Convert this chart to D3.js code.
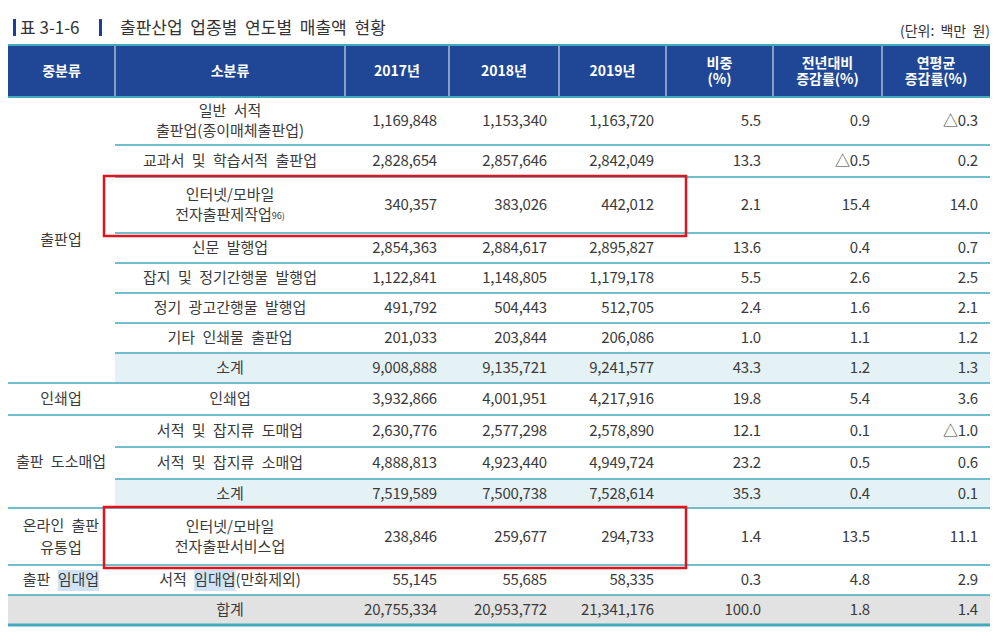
<!DOCTYPE html>
<html><head><meta charset="utf-8">
<script src="https://cdn.jsdelivr.net/npm/d3@7"></script>
<style>body{margin:0;background:#fff}text{font-family:"Noto Sans CJK KR","Noto Sans",sans-serif}</style>
</head><body><svg id="c" width="998" height="638"></svg>
<script>
const headers = ["중분류","소분류","2017년","2018년","2019년","비중\n(%)","전년대비\n증감률(%)","연평균\n증감률(%)"];
const groups = [
  {name:"출판업", rows:[0,7]},
  {name:"인쇄업", rows:[8,8]},
  {name:"출판 도소매업", rows:[9,11]},
  {name:"온라인 출판\n유통업", rows:[12,12]},
  {name:"출판 임대업", rows:[13,13]},
  {name:"", rows:[14,14]}
];
const subs = ["일반 서적\n출판업(종이매체출판업)","교과서 및 학습서적 출판업","인터넷/모바일\n전자출판제작업","신문 발행업","잡지 및 정기간행물 발행업","정기 광고간행물 발행업","기타 인쇄물 출판업","소계","인쇄업","서적 및 잡지류 도매업","서적 및 잡지류 소매업","소계","인터넷/모바일\n전자출판서비스업","서적 임대업(만화제외)","합계"];
const v2017 = ["1,169,848","2,828,654","340,357","2,854,363","1,122,841","491,792","201,033","9,008,888","3,932,866","2,630,776","4,888,813","7,519,589","238,846","55,145","20,755,334"];
const v2018 = ["1,153,340","2,857,646","383,026","2,884,617","1,148,805","504,443","203,844","9,135,721","4,001,951","2,577,298","4,923,440","7,500,738","259,677","55,685","20,953,772"];
const v2019 = ["1,163,720","2,842,049","442,012","2,895,827","1,179,178","512,705","206,086","9,241,577","4,217,916","2,578,890","4,949,724","7,528,614","294,733","58,335","21,341,176"];
const share = ["5.5","13.3","2.1","13.6","5.5","2.4","1.0","43.3","19.8","12.1","23.2","35.3","1.4","0.3","100.0"];
const yoy = ["0.9","△0.5","15.4","0.4","2.6","1.6","1.1","1.2","5.4","0.1","0.5","0.4","13.5","4.8","1.8"];
const cagr = ["△0.3","0.2","14.0","0.7","2.5","2.1","1.2","1.3","3.6","△1.0","0.6","0.1","11.1","2.9","1.4"];
const rowEdges = [97,145,177,233,263,293,323,353,383,415,447,479,508,565,595,625];
const colEdges = [8,115,345,449,559,666,773,882,990];
const highlight = [2,12];
const searchWord = "임대업";

const svg = d3.select("#c");
const TEAL = "#45a9bd", TXT = "#3a3a3a";
const y = i => rowEdges[i];
const bgLayer = svg.append("g"), lineLayer = svg.append("g"), txtLayer = svg.append("g");

// title
svg.append("rect").attr("x",13).attr("y",19).attr("width",3).attr("height",17).attr("fill","#1f3f94");
svg.append("text").attr("x",20).attr("y",34).attr("font-size",17).attr("fill","#333").text("표 3-1-6");
svg.append("rect").attr("x",99).attr("y",19).attr("width",3).attr("height",17).attr("fill","#1f3f94");
svg.append("text").attr("x",120).attr("y",34).attr("font-size",17).attr("fill","#333").attr("word-spacing",4).text("출판산업 업종별 연도별 매출액 현황");
svg.append("text").attr("x",990).attr("y",36).attr("font-size",14).attr("text-anchor","end").attr("fill","#333").attr("word-spacing",3).text("(단위: 백만 원)");

// header
svg.append("rect").attr("x",8).attr("y",45).attr("width",982).attr("height",52).attr("fill","#1f4796");
svg.append("line").attr("x1",8).attr("x2",990).attr("y1",45).attr("y2",45).attr("stroke",TEAL).attr("stroke-width",2);
svg.append("line").attr("x1",8).attr("x2",990).attr("y1",97).attr("y2",97).attr("stroke",TEAL).attr("stroke-width",2);
colEdges.slice(1,-1).forEach(x=>svg.append("line").attr("x1",x).attr("x2",x).attr("y1",46).attr("y2",96).attr("stroke","#cfd8ea").attr("stroke-width",1.2));
function multi(parent, t, x, cy, opts){
  const lines = t.split("\n"), lh = opts.lh||17;
  const g = parent.append("text").attr("x",x).attr("text-anchor",opts.anchor||"middle")
    .attr("font-size",opts.size||15).attr("fill",opts.fill||TXT).attr("font-weight",opts.weight||"normal")
    .attr("word-spacing",opts.ws==null?4:opts.ws);
  lines.forEach((l,i)=>g.append("tspan").attr("x",x).attr("y",cy+(i-(lines.length-1)/2)*lh+5).text(l));
  return g;
}
headers.forEach((h,i)=>multi(svg,h,(colEdges[i]+colEdges[i+1])/2,71,{fill:"#fff",weight:"bold",size:14,lh:16,ws:0}));

// backgrounds
[7,11].forEach(r=>bgLayer.append("rect").attr("x",115).attr("y",y(r)).attr("width",875).attr("height",y(r+1)-y(r)).attr("fill","#e5f2f5"));
bgLayer.append("rect").attr("x",8).attr("y",y(14)).attr("width",982).attr("height",y(15)-y(14)).attr("fill","#e2e2e2");

// row lines
const groupEnds = new Set(groups.map(g=>g.rows[1]+1));
for(let r=1;r<rowEdges.length;r++){
  const full = groupEnds.has(r);
  lineLayer.append("line").attr("x1",full?8:115).attr("x2",990).attr("y1",y(r)).attr("y2",y(r))
    .attr("stroke",TEAL).attr("stroke-width",r===15?3:1.5);
}
function markSearch(textEl, cy){
  textEl.selectAll("tspan").each(function(){
    const s=this.textContent, idx=s.indexOf(searchWord);
    if(idx<0) return;
    const bb=this.getBBox();
    const x0=bb.x+this.getSubStringLength(0,idx);
    const w=this.getSubStringLength(idx,searchWord.length);
    bgLayer.append("rect").attr("x",x0).attr("y",cy-10).attr("width",w).attr("height",21).attr("fill","#cfe3f5");
  });
}
// groups
groups.forEach(g=>{ if(!g.name) return;
  const cy=(y(g.rows[0])+y(g.rows[1]+1))/2;
  const t=multi(txtLayer,g.name,61,cy,{lh:22});
  markSearch(t,cy);
});
// cells
const cols=[v2017,v2018,v2019,share,yoy,cagr];
subs.forEach((s,r)=>{
  const cy=(y(r)+y(r+1))/2;
  const t = multi(txtLayer,s,230,cy,{lh:20});
  if(r===2){ t.select("tspan:last-child").append("tspan").attr("font-size",9).attr("dy",-1).text("96)"); }
  markSearch(t,cy);
  cols.forEach((c,k)=>txtLayer.append("text").attr("x",colEdges[k+3]-12).attr("y",cy+5).attr("text-anchor","end").attr("font-size",15).attr("fill",TXT).attr("letter-spacing",-0.2).text(c[r]));
});
// red boxes
highlight.forEach(r=>svg.append("rect").attr("x",104).attr("y",y(r)-1).attr("width",582).attr("height",y(r+1)-y(r)+4)
  .attr("fill","none").attr("stroke","#e0141e").attr("stroke-width",2.5));
</script></body></html>
